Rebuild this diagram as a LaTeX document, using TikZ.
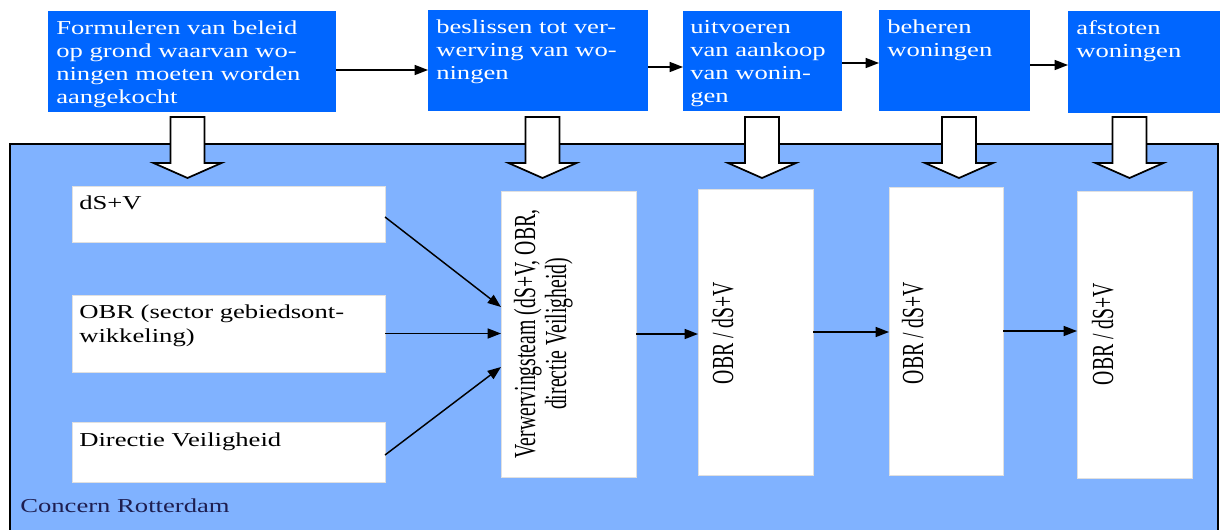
\documentclass[tikz,border=0pt]{standalone}
\usepackage{fontspec}
\setmainfont{Liberation Serif}
\usetikzlibrary{arrows.meta}
\definecolor{topblue}{RGB}{0,102,255}
\definecolor{lightblue}{RGB}{128,178,255}
\definecolor{navy}{RGB}{30,30,80}
\newcommand{\htxt}[1]{\scalebox{1.35}[1]{\begin{tabular}[t]{@{}l@{}}#1\end{tabular}}}
\newcommand{\vtxt}[1]{\scalebox{1}[1.55]{\begin{tabular}[t]{@{}c@{}}#1\end{tabular}}}
\tikzset{
  sz/.style 2 args={minimum width=#1*0.75pt, minimum height=#2*0.75pt},
  topbox/.style={fill=topblue, draw=none, inner sep=0pt, outer sep=0pt, anchor=north west},
  inbox/.style={fill=white, draw=black!12, line width=0.4pt, inner sep=0pt, outer sep=0pt, anchor=north west},
  orgbox/.style={fill=lightblue, draw=black, line width=1.1pt, inner sep=0pt, outer sep=0pt, anchor=north west},
  arr/.style={-{Triangle[length=10pt,width=7.5pt]}, line width=1.1pt, black},
  blockarrow/.style={fill=white, draw=black, line width=1.3pt, line join=miter},
  ttext/.style={anchor=base west, inner sep=0pt, text=white, font=\fontsize{14.8}{17.3}\selectfont},
  itext/.style={anchor=base west, inner sep=0pt, text=black, font=\fontsize{14.8}{18}\selectfont},
  vtext/.style={anchor=base, rotate=90, inner sep=0pt, text=black, font=\fontsize{14.8}{15}\selectfont},
}
\begin{document}
\begin{tikzpicture}[x=0.75pt, y=-0.75pt]
\useasboundingbox (0,0) rectangle (1220,529);
% top process boxes
\node[topbox, sz={288}{101}] (b1) at (48,11) {};
\node[topbox, sz={220}{101}] (b2) at (428,10) {};
\node[topbox, sz={159}{100}] (b3) at (683,11) {};
\node[topbox, sz={151}{101}] (b4) at (879,10) {};
\node[topbox, sz={152}{102}] (b5) at (1068,11) {};
\node[ttext] (t1) at (56,34) {\htxt{Formuleren van beleid\\op grond waarvan wo-\\ningen moeten worden\\aangekocht}};
\node[ttext] (t2) at (436,33) {\htxt{beslissen tot ver-\\werving van wo-\\ningen}};
\node[ttext] (t3) at (690,33) {\htxt{uitvoeren\\van aankoop\\van wonin-\\gen}};
\node[ttext] (t4) at (887,33) {\htxt{beheren\\woningen}};
\node[ttext] (t5) at (1076,34) {\htxt{afstoten\\woningen}};
% y levels of the top connectors
\coordinate (y1) at (0,70);
\coordinate (y2) at (0,67);
\coordinate (y3) at (0,63);
\coordinate (y4) at (0,65);
\draw[arr] (b1.east |- y1) -- (b2.west |- y1);
\draw[arr] (b2.east |- y2) -- (b3.west |- y2);
\draw[arr] (b3.east |- y3) -- (b4.west |- y3);
\draw[arr] (b4.east |- y4) -- (b5.west |- y4);
% organisation container
\node[orgbox, sz={1208}{400}] (org) at (10,144) {};
\node[anchor=base west, inner sep=0pt, text=navy, font=\fontsize{14.8}{17.3}\selectfont] (orgl) at (20,512) {\htxt{Concern Rotterdam}};
% block arrows
\foreach \c in {187.5,542.5,762,959,1129.5}{
  \draw[blockarrow] (\c-17,117) -- (\c+17,117) -- (\c+17,163) -- (\c+34,163) -- (\c,178) -- (\c-34,163) -- (\c-17,163) -- cycle;
}
% inner boxes
\node[inbox, sz={313}{56}] (l1) at (72,186) {};
\node[inbox, sz={313}{77}] (l2) at (72,295) {};
\node[inbox, sz={313}{60}] (l3) at (72,422) {};
\node[itext] (lt1) at (79,209) {\htxt{dS+V}};
\node[itext] (lt2) at (79,318) {\htxt{OBR (sector gebiedsont-\\wikkeling)}};
\node[itext] (lt3) at (79,446) {\htxt{Directie Veiligheid}};
\node[inbox, sz={135}{286}] (vt) at (501,191) {};
\node[inbox, sz={115}{286}] (o1) at (698,189) {};
\node[inbox, sz={114}{288}] (o2) at (889,187) {};
\node[inbox, sz={115}{287}] (o3) at (1077,191) {};
\node[vtext] (vtt) at (535,334) {\vtxt{Verwervingsteam (dS+V, OBR,\\directie Veiligheid)}};
\node[vtext] (o1t) at (733,333) {\vtxt{OBR / dS+V}};
\node[vtext] (o2t) at (923,333) {\vtxt{OBR / dS+V}};
\node[vtext] (o3t) at (1113,334) {\vtxt{OBR / dS+V}};
% connectors inside
\coordinate (e1) at (0,307);
\coordinate (e3) at (0,367);
\coordinate (s1) at (0,217);
\coordinate (s3) at (0,455);
\draw[arr] (l1.east |- s1) -- (vt.west |- e1);
\draw[arr] (l2.east) -- (vt.west |- l2.east);
\draw[arr] (l3.east |- s3) -- (vt.west |- e3);
\draw[arr] (vt.east) -- (o1.west |- vt.east);
\draw[arr] (o1.east) -- (o2.west |- o1.east);
\draw[arr] (o2.east) -- (o3.west |- o2.east);
\end{tikzpicture}
\end{document}
